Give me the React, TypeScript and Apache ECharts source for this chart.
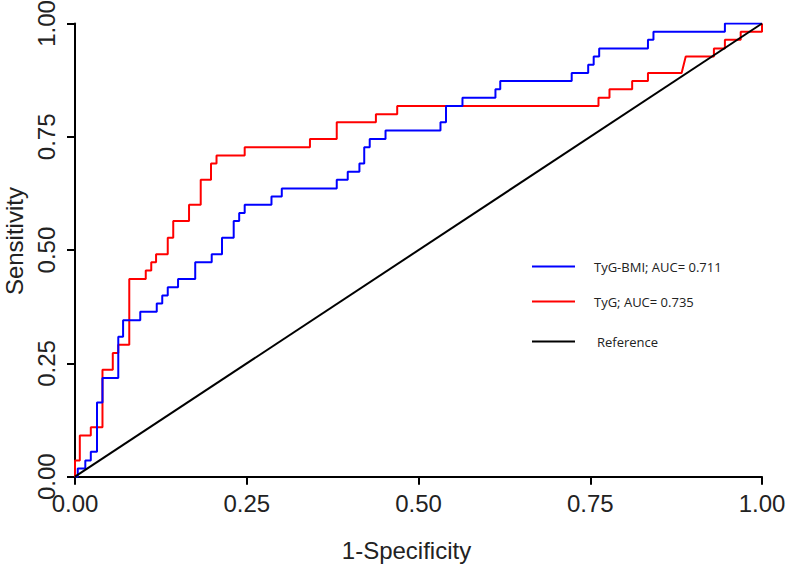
import React, { useEffect, useRef } from "react";
import * as echarts from "echarts";

// ROC curve vertices (1-Specificity, Sensitivity)
const tygFpr = [0, 0, 0.007, 0.007, 0.023, 0.023, 0.040, 0.040, 0.055, 0.055, 0.063, 0.063, 0.079, 0.079, 0.103, 0.103, 0.111, 0.111, 0.118, 0.118, 0.135, 0.135, 0.143, 0.143, 0.166, 0.166, 0.183, 0.183, 0.198, 0.198, 0.206, 0.206, 0.247, 0.247, 0.342, 0.342, 0.381, 0.381, 0.438, 0.438, 0.469, 0.469, 0.762, 0.762, 0.778, 0.778, 0.811, 0.811, 0.834, 0.834, 0.883, 0.889, 0.930, 0.930, 0.946, 0.946, 0.969, 0.969, 1, 1];
const tygTpr = [0, 0.036, 0.036, 0.091, 0.091, 0.109, 0.109, 0.236, 0.236, 0.273, 0.273, 0.291, 0.291, 0.436, 0.436, 0.455, 0.455, 0.473, 0.473, 0.491, 0.491, 0.527, 0.527, 0.564, 0.564, 0.600, 0.600, 0.655, 0.655, 0.691, 0.691, 0.709, 0.709, 0.727, 0.727, 0.745, 0.745, 0.782, 0.782, 0.800, 0.800, 0.818, 0.818, 0.836, 0.836, 0.855, 0.855, 0.873, 0.873, 0.891, 0.891, 0.927, 0.927, 0.945, 0.945, 0.964, 0.964, 0.982, 0.982, 1];

const tygBmiFpr = [0, 0.004, 0.004, 0.015, 0.015, 0.023, 0.023, 0.032, 0.032, 0.040, 0.040, 0.063, 0.063, 0.070, 0.070, 0.095, 0.095, 0.119, 0.119, 0.127, 0.127, 0.135, 0.135, 0.150, 0.150, 0.175, 0.175, 0.199, 0.199, 0.214, 0.214, 0.231, 0.231, 0.239, 0.239, 0.247, 0.247, 0.286, 0.286, 0.301, 0.301, 0.381, 0.381, 0.397, 0.397, 0.414, 0.414, 0.421, 0.421, 0.429, 0.429, 0.452, 0.452, 0.532, 0.532, 0.540, 0.540, 0.564, 0.564, 0.612, 0.612, 0.619, 0.619, 0.723, 0.723, 0.747, 0.747, 0.755, 0.755, 0.763, 0.763, 0.834, 0.834, 0.842, 0.842, 0.946, 0.946, 1];
const tygBmiTpr = [0, 0, 0.018, 0.018, 0.036, 0.036, 0.055, 0.055, 0.164, 0.164, 0.218, 0.218, 0.309, 0.309, 0.345, 0.345, 0.364, 0.364, 0.382, 0.382, 0.400, 0.400, 0.418, 0.418, 0.436, 0.436, 0.473, 0.473, 0.491, 0.491, 0.527, 0.527, 0.564, 0.564, 0.582, 0.582, 0.600, 0.600, 0.618, 0.618, 0.636, 0.636, 0.655, 0.655, 0.673, 0.673, 0.691, 0.691, 0.727, 0.727, 0.745, 0.745, 0.764, 0.764, 0.782, 0.782, 0.818, 0.818, 0.836, 0.836, 0.855, 0.855, 0.873, 0.873, 0.891, 0.891, 0.909, 0.909, 0.927, 0.927, 0.945, 0.945, 0.964, 0.964, 0.982, 0.982, 1, 1];

const referenceFpr = [0, 1];
const referenceTpr = [0, 1];

const seriesNames = ["TyG-BMI; AUC= 0.711", "TyG; AUC= 0.735", "Reference"];
const axisMin = 0;
const axisMax = 1;
const tickStep = 0.25;

const zip = (xs: number[], ys: number[]) => xs.map((x, i) => [x, ys[i]]);

export default function App() {
  const ref = useRef<HTMLDivElement>(null);

  useEffect(() => {
    if (!ref.current) return;
    const chart = echarts.init(ref.current, undefined, { renderer: "svg" });
    const axisFont = "Liberation Sans, Arial, sans-serif";
    const legendFont = "Open Sans, Noto Sans, sans-serif";
    const legendBase = {
      orient: "vertical",
      left: 532,
      itemWidth: 43,
      itemHeight: 2,
      icon: "rect",
      padding: 0,
      selectedMode: false,
      textStyle: { fontFamily: legendFont, fontSize: 13, color: "#222", padding: [0, 0, 0, 14] },
    };
    chart.setOption({
      animation: false,
      backgroundColor: "#fff",
      grid: { left: 75, right: 24, top: 23.5, bottom: 87.3, containLabel: false, outerBoundsMode: "none" },
      legend: [
        { ...legendBase, top: 260, data: [seriesNames[0]] },
        { ...legendBase, top: 295, data: [seriesNames[1]] },
        { ...legendBase, top: 335, data: [seriesNames[2]], textStyle: { ...legendBase.textStyle, padding: [0, 0, 0, 17] } },
      ],
      xAxis: {
        type: "value",
        min: axisMin,
        max: axisMax,
        interval: tickStep,
        name: "1-Specificity",
        nameLocation: "middle",
        nameGap: 62,
        nameTextStyle: { fontFamily: axisFont, fontSize: 24, color: "#222", padding: [0, 24, 0, 0] },
        axisLine: { show: true, onZero: false, lineStyle: { color: "#000", width: 2 } },
        axisTick: { show: true, length: 8, lineStyle: { color: "#000", width: 2 } },
        axisLabel: {
          margin: 15,
          fontFamily: axisFont,
          fontSize: 24,
          color: "#222",
          hideOverlap: false,
          formatter: (v: number) => v.toFixed(2),
        },
        splitLine: { show: false },
      },
      yAxis: {
        type: "value",
        min: axisMin,
        max: axisMax,
        interval: tickStep,
        name: "Sensitivity",
        nameLocation: "middle",
        nameGap: 48,
        nameTextStyle: { fontFamily: axisFont, fontSize: 24, color: "#222", padding: [0, 0, 0, 18] },
        axisLine: { show: true, onZero: false, lineStyle: { color: "#000", width: 2 } },
        axisTick: { show: true, length: 8, lineStyle: { color: "#000", width: 2 } },
        axisLabel: {
          rotate: 90,
          margin: 17,
          fontFamily: axisFont,
          fontSize: 24,
          color: "#222",
          hideOverlap: false,
          formatter: (v: number) => v.toFixed(2),
        },
        splitLine: { show: false },
      },
      series: [
        {
          name: seriesNames[1],
          type: "line",
          data: zip(tygFpr, tygTpr),
          symbol: "none",
          lineStyle: { color: "#ff0000", width: 2 },
          itemStyle: { color: "#ff0000" },
          z: 2,
        },
        {
          name: seriesNames[0],
          type: "line",
          data: zip(tygBmiFpr, tygBmiTpr),
          symbol: "none",
          lineStyle: { color: "#0000ff", width: 2 },
          itemStyle: { color: "#0000ff" },
          z: 3,
        },
        {
          name: seriesNames[2],
          type: "line",
          data: zip(referenceFpr, referenceTpr),
          symbol: "none",
          lineStyle: { color: "#000", width: 2 },
          itemStyle: { color: "#000" },
          z: 4,
        },
      ],
    });
    return () => chart.dispose();
  }, []);

  return (
    <div
      ref={ref}
      style={{ position: "fixed", left: 0, top: 0, width: 786, height: 564, background: "#fff" }}
    />
  );
}
